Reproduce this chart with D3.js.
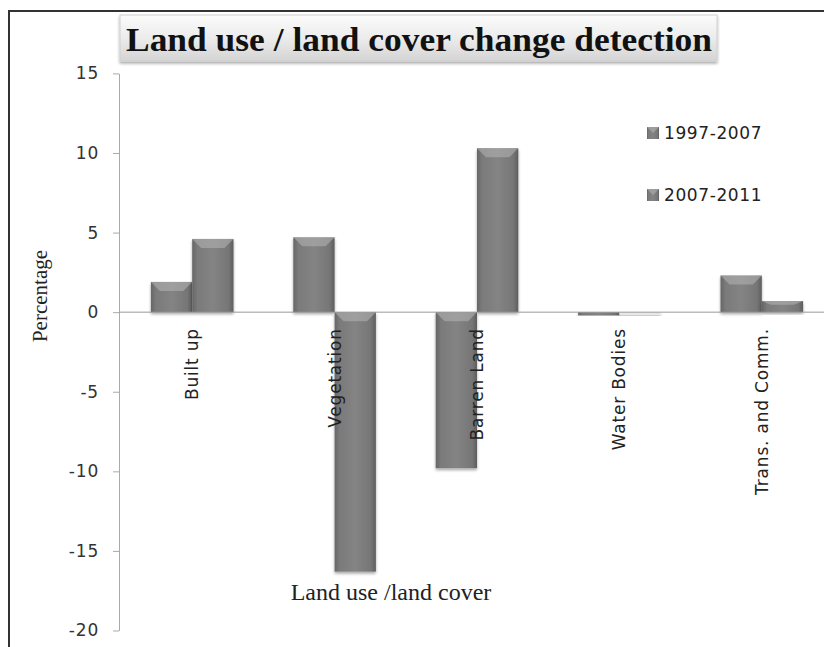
<!DOCTYPE html>
<html><head><meta charset="utf-8">
<script src="https://cdn.jsdelivr.net/npm/d3@7"></script>
<style>html,body{margin:0;padding:0;background:#fff;}svg{display:block;}</style>
</head><body>
<script>
const categories = ["Built up", "Vegetation", "Barren Land", "Water Bodies", "Trans. and Comm."];
const seriesNames = ["1997-2007", "2007-2011"];
const values1997_2007 = [1.9, 4.7, -9.8, -0.2, 2.3];
const values2007_2011 = [4.6, -16.3, 10.3, -0.15, 0.7];
const yTicks = [15, 10, 5, 0, -5, -10, -15, -20];

const W = 824, H = 647;
const svg = d3.select("body").append("svg").attr("width", W).attr("height", H);
const defs = svg.append("defs");

const g1 = defs.append("linearGradient").attr("id","barGrad").attr("x1","0").attr("x2","1").attr("y1","0").attr("y2","0");
g1.append("stop").attr("offset","0").attr("stop-color","#666");
g1.append("stop").attr("offset","0.12").attr("stop-color","#7a7a7a");
g1.append("stop").attr("offset","0.5").attr("stop-color","#848484");
g1.append("stop").attr("offset","0.88").attr("stop-color","#767676");
g1.append("stop").attr("offset","1").attr("stop-color","#5e5e5e");

const tg = defs.append("linearGradient").attr("id","titleGrad").attr("x1","0").attr("x2","0").attr("y1","0").attr("y2","1");
tg.append("stop").attr("offset","0").attr("stop-color","#fbfbfb");
tg.append("stop").attr("offset","0.5").attr("stop-color","#ececec");
tg.append("stop").attr("offset","1").attr("stop-color","#d4d4d4");

const blur = defs.append("filter").attr("id","sh").attr("x","-10%").attr("y","-10%").attr("width","120%").attr("height","130%");
blur.append("feGaussianBlur").attr("in","SourceAlpha").attr("stdDeviation","1.5");
blur.append("feOffset").attr("dx","0").attr("dy","2").attr("result","ob");
blur.append("feComponentTransfer").append("feFuncA").attr("type","linear").attr("slope","0.35");
const fm = blur.append("feMerge"); fm.append("feMergeNode"); fm.append("feMergeNode").attr("in","SourceGraphic");

// frame
svg.append("line").attr("x1",8).attr("x2",W).attr("y1",11).attr("y2",11).attr("stroke","#333").attr("stroke-width",2);
svg.append("line").attr("x1",9).attr("x2",9).attr("y1",10).attr("y2",H).attr("stroke","#333").attr("stroke-width",2);

const x0 = d3.scaleBand().domain(categories).range([121, 833]).paddingInner(0.42).paddingOuter(0.21);
const x1 = d3.scaleBand().domain(seriesNames).range([0, x0.bandwidth()]);
const y = d3.scaleLinear().domain([-20, 15]).range([630.5, 73.4]);

const sans = "'DejaVu Sans', Verdana, sans-serif";
const serif = "'Liberation Serif', 'Times New Roman', serif";

// y axis
const yAxis = d3.axisLeft(y).tickValues(yTicks).tickSize(6).tickSizeOuter(0).tickPadding(14).tickFormat(d=>String(d));
const ya = svg.append("g").attr("transform","translate(119,0)").call(yAxis);
ya.select(".domain").attr("stroke","#aaa");
ya.selectAll(".tick line").attr("stroke","#aaa");
ya.selectAll(".tick text").attr("font-family",sans).attr("font-size",17).attr("letter-spacing","0.8").attr("fill","#333");

// bars
const data = categories.map((c,i)=>({cat:c, vals:[{s:seriesNames[0], v:values1997_2007[i]},{s:seriesNames[1], v:values2007_2011[i]}]}));
const grp = svg.append("g");
data.forEach(d=>{
  d.vals.forEach((e,j)=>{
    const bx = x0(d.cat) + x1(e.s);
    const bw = x1.bandwidth();
    const yt = y(Math.max(0,e.v)), yb = y(Math.min(0,e.v));
    const h = Math.max(yb-yt, 1);
    const light = (d.cat==="Water Bodies" && j===1);
    const gg = grp.append("g").attr("filter","url(#sh)");
    gg.append("rect").attr("x",bx).attr("y",yt).attr("width",bw).attr("height",h)
      .attr("fill", light ? "#e6e6e6" : "url(#barGrad)");
    if (!light && h > 8) {
      const bev = Math.min(9, h/3);
      gg.append("path").attr("d",`M${bx},${yt} L${bx+bw},${yt} L${bx+bw-9},${yt+bev} L${bx+9},${yt+bev} Z`)
        .attr("fill","#b0b0b0").attr("opacity",0.6);
    }
  });
});

// zero line
svg.append("line").attr("x1",119).attr("x2",W).attr("y1",y(0)).attr("y2",y(0)).attr("stroke","#999").attr("stroke-width",1);

// category labels
svg.append("g").selectAll("text").data(categories).join("text")
  .attr("transform", d=>`translate(${x0(d)+x0.bandwidth()/2+6},${y(0)+16}) rotate(-90)`)
  .attr("text-anchor","end")
  .attr("font-family",sans).attr("font-size",17).attr("letter-spacing","0.8").attr("fill","#222")
  .text(d=>d);

// title box
svg.append("rect").attr("x",120).attr("y",15).attr("width",597).attr("height",46)
  .attr("fill","url(#titleGrad)").attr("stroke","#d0d0d0").attr("filter","url(#sh)");
svg.append("text").attr("x",126).attr("y",51)
  .attr("font-family",serif).attr("font-weight","bold").attr("font-size",34).attr("fill","#111")
  .attr("textLength",586).attr("lengthAdjust","spacingAndGlyphs")
  .text("Land use / land cover change detection");

// axis titles
svg.append("text").attr("transform","translate(47,296) rotate(-90)").attr("text-anchor","middle")
  .attr("font-family",serif).attr("font-size",21).attr("fill","#222").text("Percentage");
svg.append("text").attr("x",391).attr("y",600).attr("text-anchor","middle")
  .attr("font-family",serif).attr("font-size",24).attr("fill","#222").text("Land use /land cover");

// legend
const leg = svg.append("g");
seriesNames.forEach((s,i)=>{
  const ly = 133 + i*62;
  leg.append("rect").attr("x",647).attr("y",ly-6).attr("width",12).attr("height",12).attr("fill","url(#barGrad)");
  leg.append("path").attr("d",`M647,${ly-6} L659,${ly-6} L653,${ly} Z`).attr("fill","#b0b0b0").attr("opacity",0.6);
  leg.append("text").attr("x",664).attr("y",ly+6).attr("font-family",sans).attr("font-size",17).attr("letter-spacing","0.6").attr("fill","#222").text(s);
});
</script>
</body></html>
